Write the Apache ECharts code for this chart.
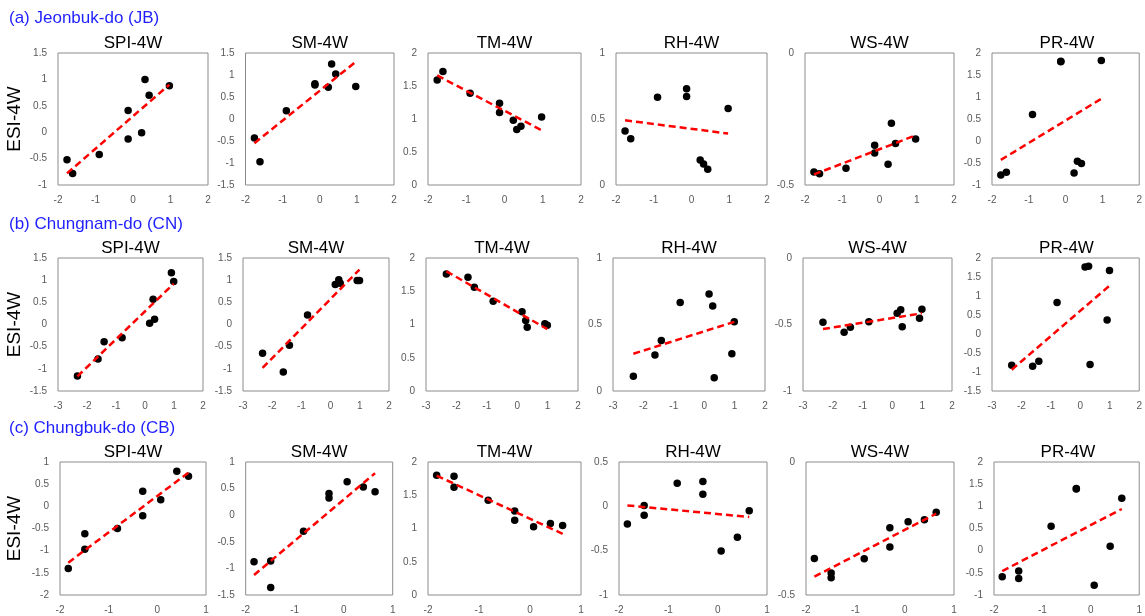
<!DOCTYPE html>
<html>
<head>
<meta charset="utf-8">
<script src="https://cdn.jsdelivr.net/npm/echarts@6/dist/echarts.min.js"></script>
<style>
html,body{margin:0;padding:0;background:#fff;}
#chart{width:1145px;height:616px;}
</style>
</head>
<body>
<div id="chart"></div>
<script>
// ---------- DATA ----------
const rowTitles = ['(a) Jeonbuk-do (JB)', '(b) Chungnam-do (CN)', '(c) Chungbuk-do (CB)'];
const panelTitles = ['SPI-4W', 'SM-4W', 'TM-4W', 'RH-4W', 'WS-4W', 'PR-4W'];
const yAxisName = 'ESI-4W';

// common x values per row
const xJB = [-1.76, -1.61, -0.90, -0.13, -0.13, 0.23, 0.32, 0.43, 0.97];
const xCN = [-2.33, -1.62, -1.41, -0.79, 0.16, 0.28, 0.33, 0.91, 0.99];
const xCB = [-1.83, -1.49, -1.49, -0.82, -0.30, -0.30, 0.07, 0.40, 0.64];

// (a) Jeonbuk-do
const jbSPI = [-0.52, -0.78, -0.42, 0.41, -0.13, -0.01, 1.00, 0.70, 0.88];
const jbSM  = [-0.43, -0.97, 0.19, 0.80, 0.77, 0.72, 1.25, 1.02, 0.74];
const jbTM  = [1.59, 1.72, 1.39, 1.10, 1.24, 0.98, 0.84, 0.89, 1.03];
const jbRH  = [0.41, 0.35, 0.665, 0.73, 0.67, 0.19, 0.16, 0.12, 0.58];
const jbWS  = [-0.451, -0.457, -0.437, -0.349, -0.379, -0.421, -0.266, -0.343, -0.326];
const jbPR  = [-0.77, -0.71, 0.60, 1.81, 1.80, -0.73, -0.46, -0.51, 1.83];

// (b) Chungnam-do
const cnSPI = [-1.16, -0.78, -0.39, -0.30, 0.03, 0.57, 0.12, 1.17, 0.97];
const cnSM  = [-0.65, -1.07, -0.47, 0.215, 0.90, 1.01, 0.93, 0.99, 0.99];
const cnTM  = [1.76, 1.71, 1.56, 1.35, 1.19, 1.06, 0.96, 1.01, 0.99];
const cnRH  = [0.11, 0.27, 0.38, 0.665, 0.73, 0.64, 0.10, 0.28, 0.52];
const cnWS  = [-0.484, -0.559, -0.521, -0.479, -0.416, -0.390, -0.516, -0.453, -0.385];
const cnPR  = [-0.82, -0.85, -0.72, 0.83, 1.76, 1.78, -0.80, 0.37, 1.67];

// (c) Chungbuk-do
const cbSPI = [-1.40, -0.97, -0.62, -0.50, 0.34, -0.21, 0.15, 0.79, 0.68];
const cbSM  = [-0.875, -0.86, -1.36, -0.30, 0.41, 0.325, 0.63, 0.53, 0.44];
const cbTM  = [1.80, 1.785, 1.62, 1.425, 1.265, 1.125, 1.025, 1.075, 1.045];
const cbRH  = [-0.20, -0.10, 0.01, 0.26, 0.28, 0.135, -0.505, -0.35, -0.05];
const cbWS  = [-0.3625, -0.4175, -0.435, -0.364, -0.2475, -0.32, -0.225, -0.2175, -0.189];
const cbPR  = [-0.59, -0.46, -0.63, 0.55, 1.40, 1.39, -0.78, 0.10, 1.18];

// trend line values at the row's min x and max x
const trendJB = [[-0.78, 0.90], [-0.55, 1.30], [1.66, 0.83], [0.49, 0.39], [-0.46, -0.312], [-0.43, 0.96]];
const trendCN = [[-1.17, 0.92], [-0.98, 1.24], [1.80, 0.93], [0.28, 0.52], [-0.534, -0.416], [-0.94, 1.27]];
const trendCB = [[-1.27, 0.76], [-1.125, 0.79], [1.795, 0.92], [0.01, -0.12], [-0.431, -0.194], [-0.46, 0.94]];

// axis ranges
const xRangeJB = [-2, 2], xRangeCN = [-3, 2], xRangeCB = [-2, 1];
const yRangeJB = [[-1, 1.5], [-1.5, 1.5], [0, 2], [0, 1], [-0.5, 0], [-1, 2]];
const yRangeCN = [[-1.5, 1.5], [-1.5, 1.5], [0, 2], [0, 1], [-1, 0], [-1.5, 2]];
const yRangeCB = [[-2, 1], [-1.5, 1], [0, 2], [-1, 0.5], [-0.5, 0], [-1, 2]];

// ---------- LAYOUT ----------
const rows = [
  { x: xJB, ys: [jbSPI, jbSM, jbTM, jbRH, jbWS, jbPR], trend: trendJB, xr: xRangeJB, yr: yRangeJB,
    top: 53, height: 132, lefts: [58, 245.5, 428, 616, 805, 992], rights: [208, 394, 581, 767, 954, 1142], titleY: 18, subY: 43 },
  { x: xCN, ys: [cnSPI, cnSM, cnTM, cnRH, cnWS, cnPR], trend: trendCN, xr: xRangeCN, yr: yRangeCN,
    top: 258, height: 133, lefts: [58, 243, 426, 613, 803, 992], rights: [203, 389, 578, 765, 952, 1141], titleY: 224, subY: 248 },
  { x: xCB, ys: [cbSPI, cbSM, cbTM, cbRH, cbWS, cbPR], trend: trendCB, xr: xRangeCB, yr: yRangeCB,
    top: 462, height: 133, lefts: [60, 245.7, 428, 619, 806, 994], rights: [206, 392.7, 581, 767, 954, 1142], titleY: 428, subY: 452 }
];

const FONT = '"Liberation Sans", Arial, sans-serif';
const grids = [], xAxes = [], yAxes = [], series = [], graphics = [];

rows.forEach((r, ri) => {
  graphics.push({ type: 'text', x: 9, y: r.titleY,
    style: { text: rowTitles[ri], fontSize: 17, fontFamily: FONT, fill: '#1f1fff',
             align: 'left', textAlign: 'left', verticalAlign: 'middle', textVerticalAlign: 'middle' } });
  graphics.push({ type: 'text', x: 15, y: r.top + r.height / 2, rotation: Math.PI / 2,
    style: { text: yAxisName, fontSize: 19, fontFamily: FONT, fill: '#000',
             align: 'center', textAlign: 'center', verticalAlign: 'middle', textVerticalAlign: 'middle' } });
  r.ys.forEach((ys, ci) => {
    const gi = grids.length;
    const left = r.lefts[ci], width = r.rights[ci] - left;
    grids.push({ left: left, top: r.top, width: width, height: r.height, show: true,
      borderColor: '#8c8c8c', borderWidth: 1, backgroundColor: 'transparent', containLabel: false });
    xAxes.push({ type: 'value', gridIndex: gi, min: r.xr[0], max: r.xr[1], interval: 1,
      axisLine: { show: false }, axisTick: { show: false }, splitLine: { show: false },
      axisLabel: { fontSize: 10, color: '#595959', margin: 10, fontFamily: FONT } });
    yAxes.push({ type: 'value', gridIndex: gi, min: r.yr[ci][0], max: r.yr[ci][1], interval: 0.5,
      axisLine: { show: false }, axisTick: { show: false }, splitLine: { show: false },
      axisLabel: { fontSize: 10, color: '#595959', margin: 11, fontFamily: FONT } });
    series.push({ type: 'scatter', xAxisIndex: gi, yAxisIndex: gi, symbolSize: 7.5,
      itemStyle: { color: '#000', opacity: 1 }, data: r.x.map((xv, k) => [xv, ys[k]]), z: 2 });
    const xmin = Math.min(...r.x), xmax = Math.max(...r.x);
    series.push({ type: 'line', xAxisIndex: gi, yAxisIndex: gi, showSymbol: false, symbol: 'none',
      lineStyle: { color: '#ff0000', width: 2.5, type: [7, 4] },
      data: [[xmin, r.trend[ci][0]], [xmax, r.trend[ci][1]]], z: 3, silent: true });
    graphics.push({ type: 'text', x: left + width / 2, y: r.subY,
      style: { text: panelTitles[ci], fontSize: 17, fontFamily: FONT, fill: '#000',
               align: 'center', textAlign: 'center', verticalAlign: 'middle', textVerticalAlign: 'middle' } });
  });
});

const chart = echarts.init(document.getElementById('chart'), null, { renderer: 'canvas' });
chart.setOption({
  animation: false,
  backgroundColor: '#fff',
  grid: grids,
  xAxis: xAxes,
  yAxis: yAxes,
  series: series,
  graphic: { elements: graphics }
});
</script>
</body>
</html>
